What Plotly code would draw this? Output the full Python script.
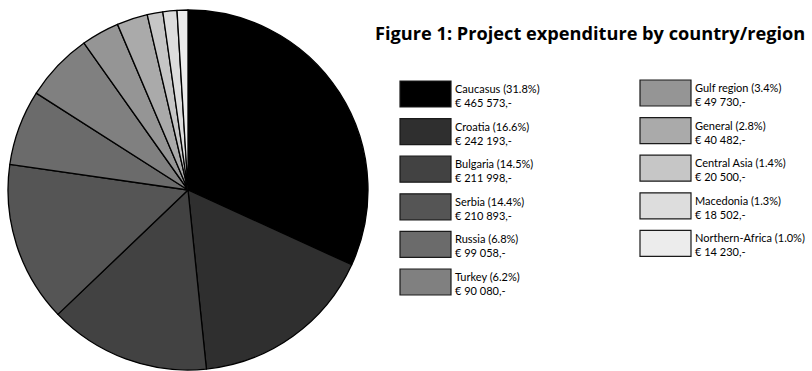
import plotly.graph_objects as go

regions = ["Caucasus", "Croatia", "Bulgaria", "Serbia", "Russia", "Turkey",
           "Gulf region", "General", "Central Asia", "Macedonia", "Northern-Africa"]
percents = ["31.8", "16.6", "14.5", "14.4", "6.8", "6.2", "3.4", "2.8", "1.4", "1.3", "1.0"]
amounts = [465573, 242193, 211998, 210893, 99058, 90080, 49730, 40482, 20500, 18502, 14230]
amount_labels = ["€ 465 573,-", "€ 242 193,-", "€ 211 998,-", "€ 210 893,-", "€ 99 058,-",
                 "€ 90 080,-", "€ 49 730,-", "€ 40 482,-", "€ 20 500,-", "€ 18 502,-", "€ 14 230,-"]
colors = ["#000000", "#2f2f2f", "#424242", "#555555", "#6b6b6b", "#808080",
          "#959595", "#aaaaaa", "#c6c6c6", "#dddddd", "#ececec"]
title = "Figure 1: Project expenditure by country/region"

W, H = 812, 371
cx, cy, r = 188, 190, 180

fig = go.Figure(go.Pie(
    labels=regions, values=amounts, sort=False, direction="clockwise", rotation=0,
    marker=dict(colors=colors, line=dict(color="#000000", width=1.3)),
    textinfo="none", hoverinfo="label+value+percent", showlegend=False,
    domain=dict(x=[(cx - r) / W, (cx + r) / W], y=[(H - cy - r) / H, (H - cy + r) / H]),
))

shapes = []
annotations = []
font_family = "Lato, 'Open Sans', sans-serif"
for i, (name, pct, amt, col) in enumerate(zip(regions, percents, amount_labels, colors)):
    if i < 6:
        x0, top = 400, 81 + i * 37.6
    else:
        x0, top = 640, 80 + (i - 6) * 37.6
    x1, bot = x0 + 51, top + 26
    shapes.append(dict(type="rect", xref="paper", yref="paper",
                       x0=x0 / W, x1=x1 / W, y0=1 - bot / H, y1=1 - top / H,
                       fillcolor=col, line=dict(color="#1a1a1a", width=1.2)))
    annotations.append(dict(xref="paper", yref="paper", x=(x1 + 2) / W, y=1 - (top - 1) / H,
                            xanchor="left", yanchor="top", align="left", showarrow=False,
                            text=f"{name} ({pct}%)<br>{amt}",
                            font=dict(family=font_family, size=11, color="#000000")))

annotations.append(dict(xref="paper", yref="paper", x=373 / W, y=1 - 33 / H,
                        xanchor="left", yanchor="middle", showarrow=False,
                        text=f"<b>{title}</b>",
                        font=dict(family="'Open Sans', sans-serif", size=18.2, color="#000000")))

fig.update_layout(width=W, height=H, margin=dict(l=0, r=0, t=0, b=0),
                  paper_bgcolor="white", plot_bgcolor="white",
                  shapes=shapes, annotations=annotations)

fig.write_html("out.html")
